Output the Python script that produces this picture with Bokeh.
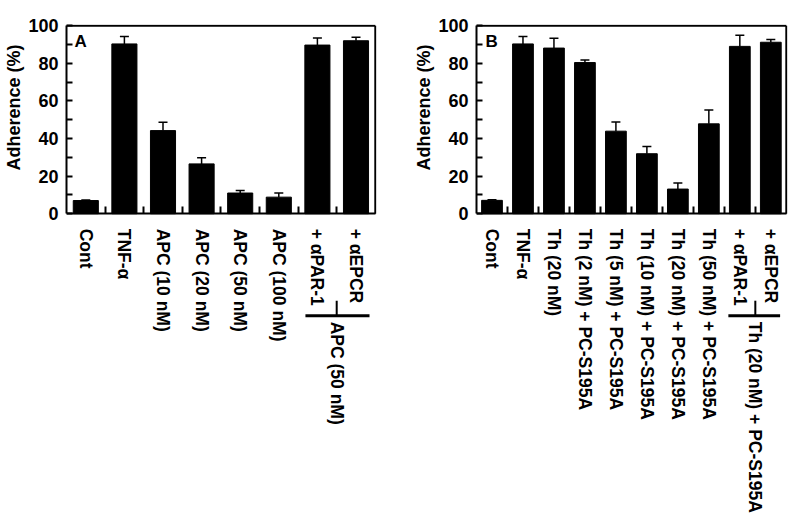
import math
import numpy as np
from bokeh.plotting import figure
from bokeh.layouts import row
from bokeh.models import (Range1d, FixedTicker, ColumnDataSource, Whisker, TeeHead,
                          Label, Title)
from bokeh.core.properties import value
from bokeh.embed import file_html
from bokeh.resources import INLINE

# ---- data -----------------------------------------------------------------
cats_a = ["Cont", "TNF-\u03b1", "APC (10 nM)", "APC (20 nM)", "APC (50 nM)",
          "APC (100 nM)", "+ \u03b1PAR-1", "+ \u03b1EPCR"]
vals_a = [7.0, 90.3, 44.2, 26.5, 11.0, 8.8, 89.7, 92.0]
err_a = [0.3, 3.9, 4.5, 3.2, 1.4, 2.2, 3.8, 1.8]
group_a = "APC (50 nM)"

cats_b = ["Cont", "TNF-\u03b1", "Th (20 nM)", "Th (2 nM) + PC-S195A",
          "Th (5 nM) + PC-S195A", "Th (10 nM) + PC-S195A", "Th (20 nM) + PC-S195A",
          "Th (50 nM) + PC-S195A", "+ \u03b1PAR-1", "+ \u03b1EPCR"]
vals_b = [7.1, 90.3, 88.1, 80.4, 43.9, 31.9, 13.1, 47.8, 89.0, 91.2]
err_b = [0.3, 3.9, 5.2, 1.4, 4.9, 3.9, 3.2, 7.4, 5.9, 1.5]
group_b = "Th (20 nM) + PC-S195A"

y_ticks = [0, 20, 40, 60, 80, 100]
y_minor = [10, 30, 50, 70, 90]
y_title = "Adherence (%)"

FONT = "Liberation Sans"
LAB_SIZE = "17.5px"
PLOT_H = 188          # pixel height of the 0..100 data area
FRAME_H = 492         # frame also holds the rotated category labels
PX = 100.0 / PLOT_H   # data units per screen pixel on the y axis


def panel(cats, vals, errs, letter, group, left, right, frame_w, bar_w, letter_x,
          br_lo, br_hi):
    n = len(cats)
    centers = np.arange(n) + 0.5
    pxx = n / frame_w
    y_top = 100 + 1.2 * PX
    y_bot = y_top - FRAME_H * PX
    p = figure(output_backend="svg", toolbar_location=None,
               x_range=Range1d(0, n + 1.2 * pxx), y_range=Range1d(y_bot, y_top),
               frame_width=frame_w + 1, frame_height=FRAME_H,
               min_border_left=left, min_border_right=right,
               min_border_top=24, min_border_bottom=0,
               background_fill_color="white", border_fill_color="white")
    p.outline_line_color = None
    p.grid.visible = False

    src = ColumnDataSource(dict(x=centers, top=vals,
                                up=np.array(vals) + np.array(errs)))
    p.vbar(x="x", top="top", width=bar_w, source=src,
           fill_color="black", line_color="black")
    p.add_layout(Whisker(source=src, base="x", lower="top", upper="up",
                         dimension="height", line_color="black", line_width=1.5,
                         lower_head=None,
                         upper_head=TeeHead(size=9, line_color="black", line_width=1.5)))

    # top and right edges of the data box
    p.segment(x0=[0, n], y0=[100, 0], x1=[n, n], y1=[100, 100],
              line_color="black", line_width=2)

    # x axis drawn at y = 0, ticks between bars, labels as text below
    xa = p.xaxis[0]
    xa.fixed_location = 0
    xa.ticker = FixedTicker(ticks=[], minor_ticks=list(range(1, n)))
    xa.major_tick_in = 0
    xa.major_tick_out = 0
    xa.minor_tick_in = 7
    xa.minor_tick_out = 0
    xa.minor_tick_line_width = 2
    xa.axis_line_width = 2
    xa.major_label_text_font_size = "0px"
    xa.major_label_standoff = 0
    xa.bounds = (0, n)

    lab_src = ColumnDataSource(dict(x=centers, y=np.full(n, -15 * PX), t=cats))
    p.text(x="x", y="y", text="t", source=lab_src, angle=-math.pi / 2,
           text_align="left", text_baseline="middle",
           text_font=value(FONT), text_font_style="bold",
           text_font_size=LAB_SIZE, text_color="black")

    # y axis
    ya = p.yaxis[0]
    ya.bounds = (0, 100)
    ya.ticker = FixedTicker(ticks=y_ticks, minor_ticks=y_minor)
    ya.major_tick_in = 6
    ya.major_tick_out = 0
    ya.minor_tick_in = 6
    ya.minor_tick_out = 0
    ya.major_tick_line_width = 2
    ya.minor_tick_line_width = 2
    ya.axis_line_width = 2
    ya.major_label_standoff = 8
    ya.major_label_text_font = FONT
    ya.major_label_text_font_style = "bold"
    ya.major_label_text_font_size = "18px"
    ya.major_label_text_color = "black"

    # y axis title, placed along the 0..100 part only
    p.add_layout(Title(text=y_title, align="right", offset=20, standoff=3,
                       text_font=FONT, text_font_style="bold",
                       text_font_size="18px", text_color="black"), "left")

    # panel letter
    p.add_layout(Label(x=letter_x, y=96.5, text=letter,
                       text_baseline="top", text_align="left",
                       text_font=FONT, text_font_style="bold",
                       text_font_size="17px", text_color="black"))

    # bracket under the last two labels + group label
    g = n - 1.0
    base_y = -102 * PX
    p.segment(x0=[n - br_lo, g], y0=[base_y, base_y], x1=[n - br_hi, g],
              y1=[base_y, base_y + 15 * PX], line_color="black", line_width=[3, 2])
    p.text(x=[g], y=[-108 * PX], text=[group], angle=-math.pi / 2,
           text_align="left", text_baseline="middle",
           text_font=value(FONT), text_font_style="bold",
           text_font_size=LAB_SIZE, text_color="black")
    return p


pA = panel(cats_a, vals_a, err_a, "A", group_a, 56, 34, 309, 0.65, 0.21, 1.81, 0.15)
pB = panel(cats_b, vals_b, err_b, "B", group_b, 60, 13, 310, 0.67, 0.29, 1.87, 0.2)

layout = row(pA, pB)
open("out.html", "w").write(file_html(layout, INLINE))
